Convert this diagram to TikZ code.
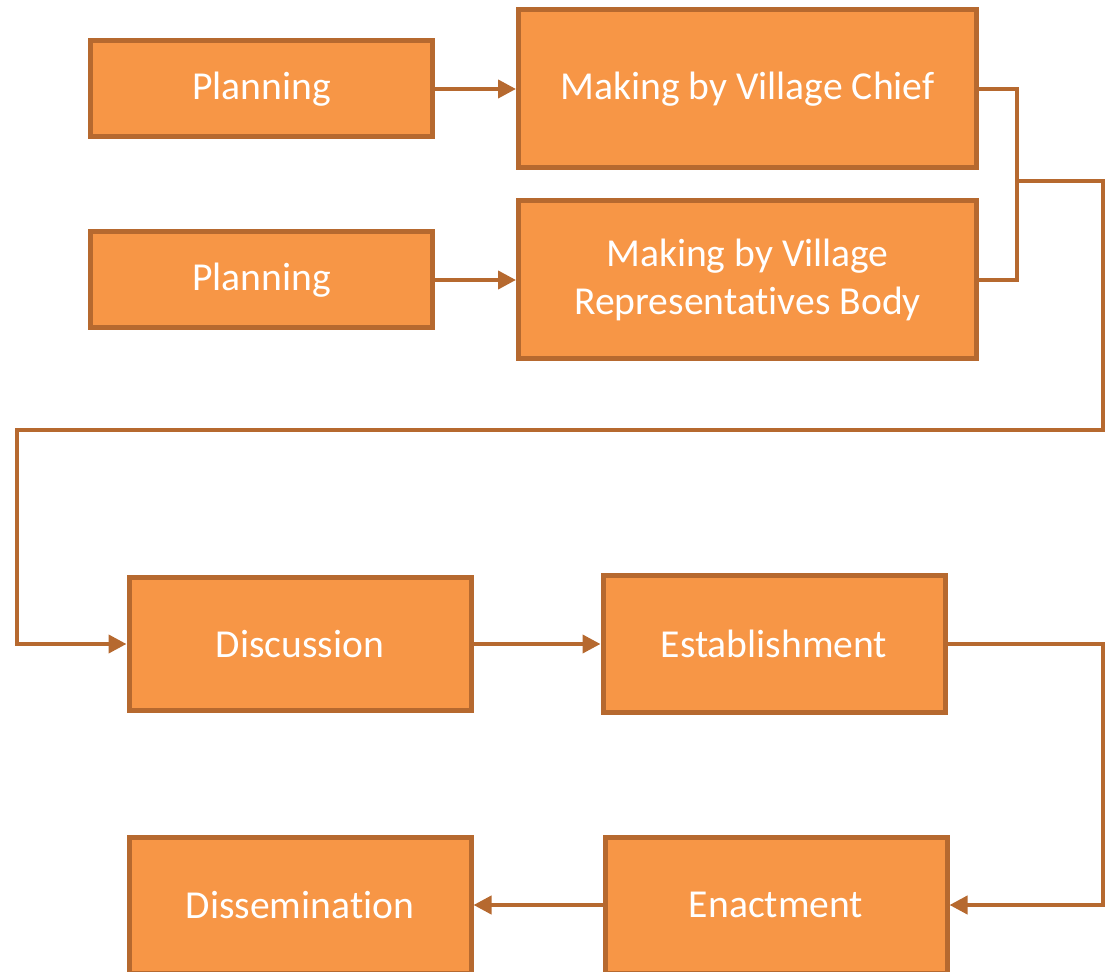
\documentclass[tikz,border=0pt]{standalone}
\usepackage{fontspec}
\setmainfont{Carlito}[Ligatures=NoCommon]
\usetikzlibrary{arrows.meta, positioning}

\definecolor{boxfill}{HTML}{F79646}
\definecolor{boxline}{HTML}{B6692F}

\tikzset{
    stage/.style={rectangle, draw=boxline, fill=boxfill, line width=2.5pt,
        text=white, align=center, font=\fontsize{19.8}{24}\selectfont,
        minimum width=171pt, minimum height=48pt, inner sep=2pt},
    flow/.style={draw=boxline, line width=2pt, -{Triangle[length=9pt,width=9pt]}},
    joint/.style={draw=boxline, line width=2pt}
}

\begin{document}
\begin{tikzpicture}[x=0.5pt, y=-0.5pt]
            \useasboundingbox (0,0) rectangle (1108,972);
            \node[stage] (1) at (261.5,89) {Planning};
            \node[stage, minimum width=229pt, minimum height=79pt] (2) [right of=1, node distance=243pt] {Making by Village Chief};
            \node[stage] (3) [below of=1, node distance=95.5pt] {Planning};
            \node[stage, minimum width=229pt, minimum height=79pt] (4) [right of=3, node distance=243pt] {Making by Village\\Representatives Body};
            \node[stage, minimum height=66pt] (5) at (300,644) {Discussion};
            \node[stage, minimum height=68pt] (6) [right of=5, node distance=237pt] {Establishment};
            \node[stage, minimum height=68pt] (7) [below of=5, node distance=130.5pt] {Dissemination};
            \node[stage, minimum height=68pt] (8) [right of=7, node distance=238pt] {Enactment};
            \coordinate (m) at (1017,181);
            \draw[flow] (1) -- (2);
            \draw[flow] (3) -- (4);
            \draw[joint] (2.east) -| (m) |- (4.east);
            \draw[flow] (m) -- ++(86,0) |- (17,430) |- (5.west);
            \draw[flow] (5) -- (6);
            \draw[flow] (6.east) -- ++(155,0) |- (8.east);
            \draw[flow] (8) -- (7);
        \end{tikzpicture}
\end{document}
